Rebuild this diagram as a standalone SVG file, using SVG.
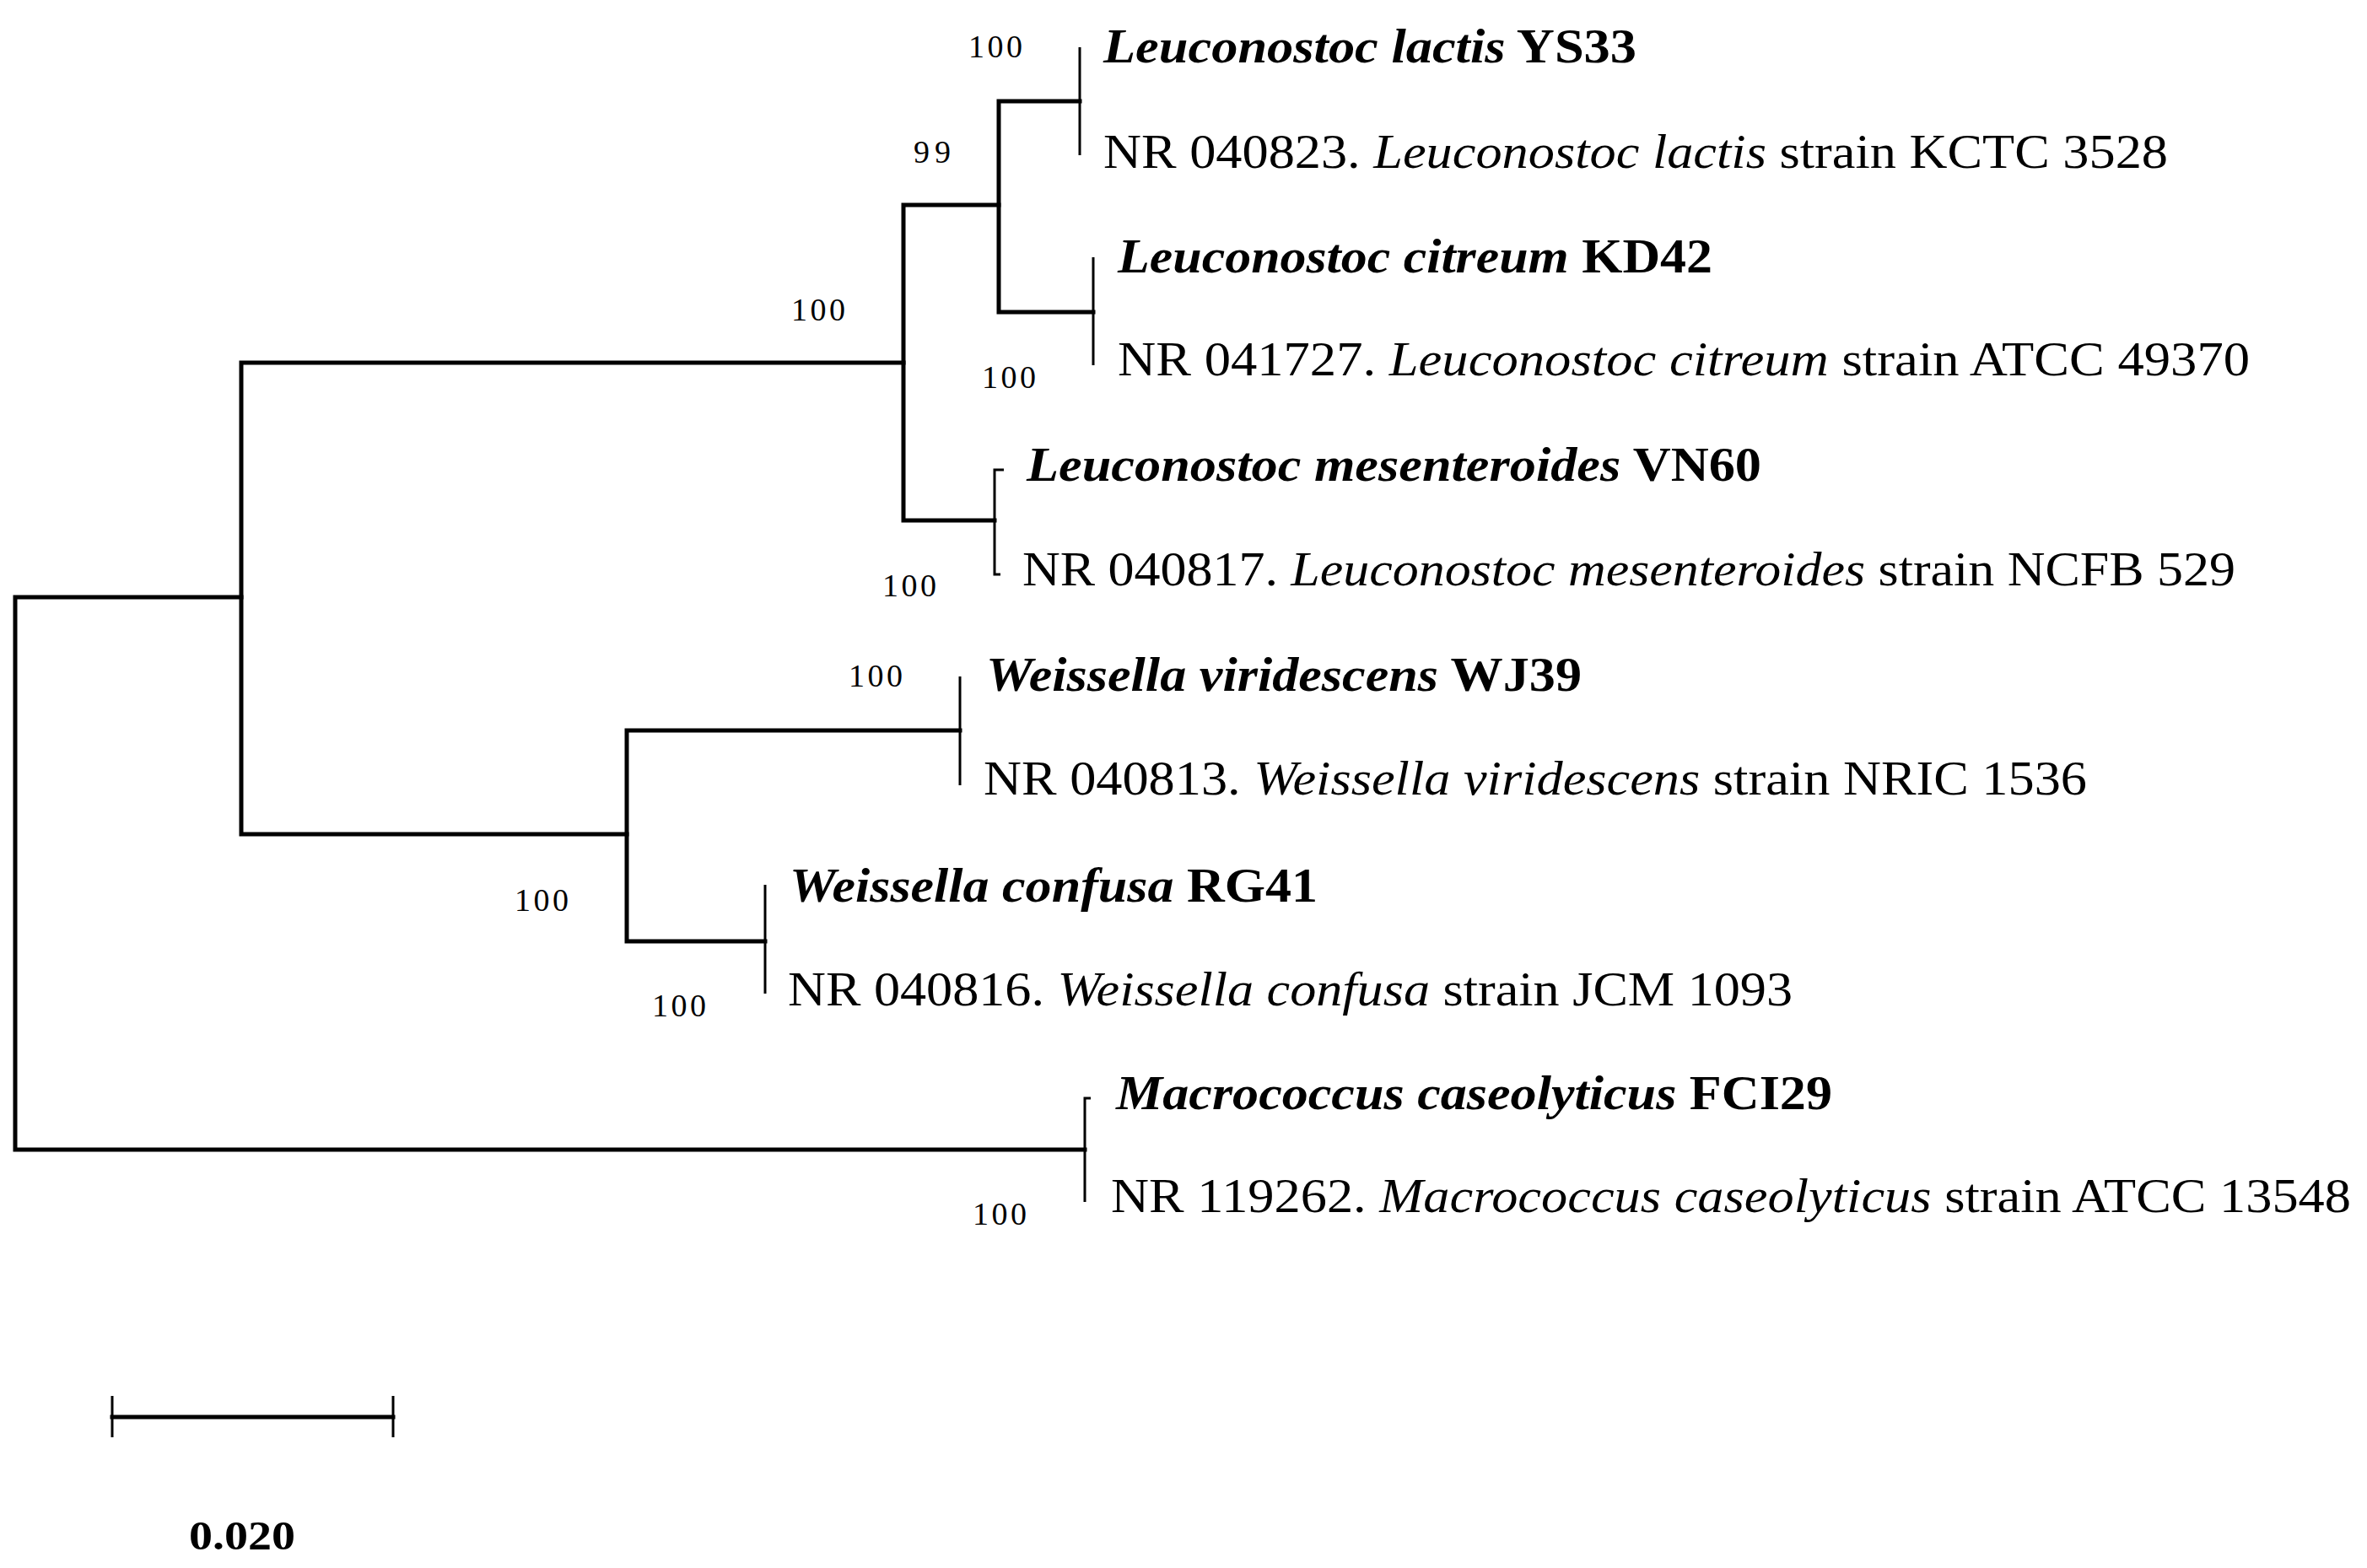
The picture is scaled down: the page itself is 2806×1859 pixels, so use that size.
<svg xmlns="http://www.w3.org/2000/svg" width="2806" height="1859" viewBox="0 0 2806 1859">
<style>
.br{fill:none;stroke:#000;stroke-width:5;stroke-linecap:square}
.lf{fill:none;stroke:#000;stroke-width:3}
text{font-family:"Liberation Serif","Times New Roman",serif;fill:#000}
.bs{font-size:38px;text-anchor:middle}
.lb{font-size:58px}
.bd{font-weight:bold}
</style>
<rect width="2806" height="1859" fill="#fff"/>
<g id="connectors">
<path class="br" d="M286,708 H18 V1363 H1286"/>
<path class="br" d="M1071,430 H286 V989 H743"/>
<path class="br" d="M1184,243 H1071 V617 H1179"/>
<path class="br" d="M1280,120 H1184 V370 H1296"/>
<path class="br" d="M1138,866 H743 V1116 H907"/>
<path class="lf" d="M1280,56 V184"/>
<path class="lf" d="M1296,305 V433"/>
<path class="lf" d="M1190,557 H1179 V681 H1186"/>
<path class="lf" d="M1138,802 V931"/>
<path class="lf" d="M907,1049 V1178"/>
<path class="lf" d="M1293,1302 H1286 V1425"/>
</g>
<g id="bootstrap">
<text class="bs" x="1180" y="68" textLength="64">100</text>
<text class="bs" x="1105" y="193" textLength="44">99</text>
<text class="bs" x="970" y="380" textLength="64">100</text>
<text class="bs" x="1196" y="460" textLength="64">100</text>
<text class="bs" x="1078" y="707" textLength="64">100</text>
<text class="bs" x="1038" y="814" textLength="64">100</text>
<text class="bs" x="642" y="1080" textLength="64">100</text>
<text class="bs" x="805" y="1205" textLength="64">100</text>
<text class="bs" x="1185" y="1452" textLength="64">100</text>
</g>
<g id="leaf-lactis-ys33"><text class="lb bd" x="1308" y="74" textLength="632" lengthAdjust="spacingAndGlyphs"><tspan font-style="italic">Leuconostoc lactis</tspan> YS33</text></g>
<g id="leaf-lactis-ref"><text class="lb" x="1308" y="199" textLength="1262" lengthAdjust="spacingAndGlyphs">NR 040823. <tspan font-style="italic">Leuconostoc lactis</tspan> strain KCTC 3528</text></g>
<g id="leaf-citreum-kd42"><text class="lb bd" x="1325" y="323" textLength="705" lengthAdjust="spacingAndGlyphs"><tspan font-style="italic">Leuconostoc citreum</tspan> KD42</text></g>
<g id="leaf-citreum-ref"><text class="lb" x="1325" y="445" textLength="1342" lengthAdjust="spacingAndGlyphs">NR 041727. <tspan font-style="italic">Leuconostoc citreum</tspan> strain ATCC 49370</text></g>
<g id="leaf-mesen-vn60"><text class="lb bd" x="1217" y="570" textLength="871" lengthAdjust="spacingAndGlyphs"><tspan font-style="italic">Leuconostoc mesenteroides</tspan> VN60</text></g>
<g id="leaf-mesen-ref"><text class="lb" x="1212" y="694" textLength="1438" lengthAdjust="spacingAndGlyphs">NR 040817. <tspan font-style="italic">Leuconostoc mesenteroides</tspan> strain NCFB 529</text></g>
<g id="leaf-viridescens-wj39"><text class="lb bd" x="1169" y="819" textLength="706" lengthAdjust="spacingAndGlyphs"><tspan font-style="italic">Weissella viridescens</tspan> WJ39</text></g>
<g id="leaf-viridescens-ref"><text class="lb" x="1166" y="942" textLength="1308" lengthAdjust="spacingAndGlyphs">NR 040813. <tspan font-style="italic">Weissella viridescens</tspan> strain NRIC 1536</text></g>
<g id="leaf-confusa-rg41"><text class="lb bd" x="936" y="1069" textLength="626" lengthAdjust="spacingAndGlyphs"><tspan font-style="italic">Weissella confusa</tspan> RG41</text></g>
<g id="leaf-confusa-ref"><text class="lb" x="934" y="1192" textLength="1191" lengthAdjust="spacingAndGlyphs">NR 040816. <tspan font-style="italic">Weissella confusa</tspan> strain JCM 1093</text></g>
<g id="leaf-macro-fci29"><text class="lb bd" x="1323" y="1315" textLength="849" lengthAdjust="spacingAndGlyphs"><tspan font-style="italic">Macrococcus caseolyticus</tspan> FCI29</text></g>
<g id="leaf-macro-ref"><text class="lb" x="1317" y="1437" textLength="1470" lengthAdjust="spacingAndGlyphs">NR 119262. <tspan font-style="italic">Macrococcus caseolyticus</tspan> strain ATCC 13548</text></g>
<g id="scale">
<path class="br" d="M133,1680 H466"/>
<path class="lf" d="M133,1655 V1704 M466,1655 V1704"/>
<text x="287" y="1837" font-size="48" font-weight="bold" text-anchor="middle" textLength="126" lengthAdjust="spacingAndGlyphs">0.020</text>
</g>
</svg>
